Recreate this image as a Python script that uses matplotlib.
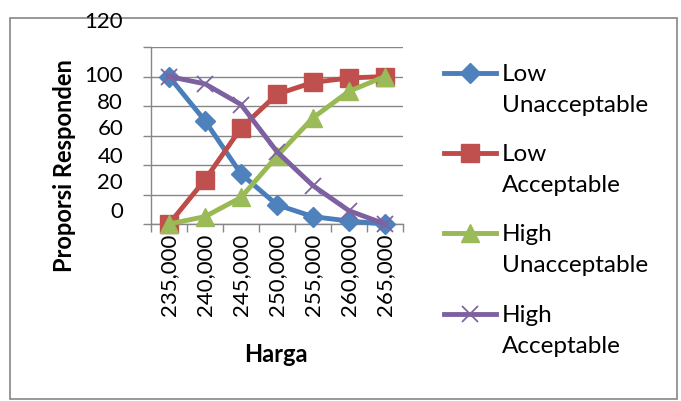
import matplotlib.pyplot as plt
from matplotlib.lines import Line2D
from matplotlib.patches import Rectangle

plt.rcParams["font.family"] = ["Lato", "DejaVu Sans"]

prices = ["235,000", "240,000", "245,000", "250,000", "255,000", "260,000", "265,000"]
low_unacceptable = [100, 70, 34, 13, 5, 2, 0]
low_acceptable = [0, 30, 65, 88, 96, 99, 100]
high_unacceptable = [0, 5, 18, 46, 72, 90, 100]
high_acceptable = [100, 95, 81, 49, 26, 9, 0]
series_labels = [("Low", "Unacceptable"), ("Low", "Acceptable"),
                 ("High", "Unacceptable"), ("High", "Acceptable")]
y_ticks = [0, 20, 40, 60, 80, 100, 120]

# vertical nudge (pixels, upward) of each y tick label
y_label_lift = [13, 12, 9, 7, 4, 1, 26]
# legend rows: pixel y of each handle line
legend_rows = [74, 154, 234, 315]

W, H = 681, 402
fig = plt.figure(figsize=(W / 100, H / 100), dpi=100)
ax = fig.add_axes([151 / W, 1 - 225 / H, (403 - 151) / W, (225 - 48) / H])


def fy(py):
    return 1 - py / H


# chart frame
fig.add_artist(Rectangle((10 / W, fy(400)), 667 / W, 381 / H,
                         transform=fig.transFigure, fill=False,
                         edgecolor="#868686", linewidth=1.2, zorder=0))

styles = [
    dict(color="#4A7EBB", marker="D", ms=10, mfc="#4F81BD", mec="#4F81BD", mew=1),
    dict(color="#BE4B48", marker="s", ms=12.5, mfc="#C0504D", mec="#C0504D", mew=1),
    dict(color="#98B954", marker="^", ms=13, mfc="#9BBB59", mec="#9BBB59", mew=1),
    dict(color="#7D60A0", marker="x", ms=12, mfc="#8064A2", mec="#8064A2", mew=1.3),
]
series = [low_unacceptable, low_acceptable, high_unacceptable, high_acceptable]
x = range(len(prices))
for values, st in zip(series, styles):
    ax.plot(x, values, lw=3.5, clip_on=False, zorder=3, **st)

ax.set_xlim(-0.5, len(prices) - 0.5)
ax.set_ylim(0, 120)

grid_c = "#868686"
ax.set_yticks(y_ticks)
ax.yaxis.grid(True, color=grid_c, linewidth=1)
ax.tick_params(axis="y", length=6, width=1, color=grid_c, labelleft=False)
for v, lift in zip(y_ticks, y_label_lift):
    ax.annotate(str(v), xy=(0, v), xycoords=("axes fraction", "data"),
                xytext=(-20, lift * 0.72), textcoords="offset points",
                ha="right", va="center", fontsize=16)

ax.set_xticks(list(x))
ax.set_xticklabels(prices, rotation=90, fontsize=16)
ax.set_xticks([i - 0.5 for i in range(len(prices) + 1)], minor=True)
ax.tick_params(axis="x", which="major", length=0, pad=6)
ax.tick_params(axis="x", which="minor", length=6, width=1, color=grid_c)

for side in ["top", "right"]:
    ax.spines[side].set_visible(False)
for side in ["left", "bottom"]:
    ax.spines[side].set_color(grid_c)
    ax.spines[side].set_linewidth(1)

fig.text(276 / W, fy(355), "Harga", ha="center", va="center",
         fontsize=17, fontweight="bold")
fig.text(64 / W, fy(166), "Proporsi Responden", ha="center", va="center",
         rotation=90, fontsize=17, fontweight="bold")

# legend: handle line with marker in the middle, two-line label beside it
for (top, bottom), st, row in zip(series_labels, styles, legend_rows):
    fig.add_artist(Line2D([444 / W, 496 / W], [fy(row)] * 2,
                          transform=fig.transFigure, lw=3.5, color=st["color"]))
    fig.add_artist(Line2D([470 / W], [fy(row)], transform=fig.transFigure,
                          linestyle="none", marker=st["marker"], ms=st["ms"],
                          mfc=st["mfc"], mec=st["mec"], mew=st["mew"]))
    fig.text(502 / W, fy(row + 7), top, va="baseline", fontsize=17.5)
    fig.text(502 / W, fy(row + 38), bottom, va="baseline", fontsize=17.5)

fig.savefig("out.png", dpi=100)
